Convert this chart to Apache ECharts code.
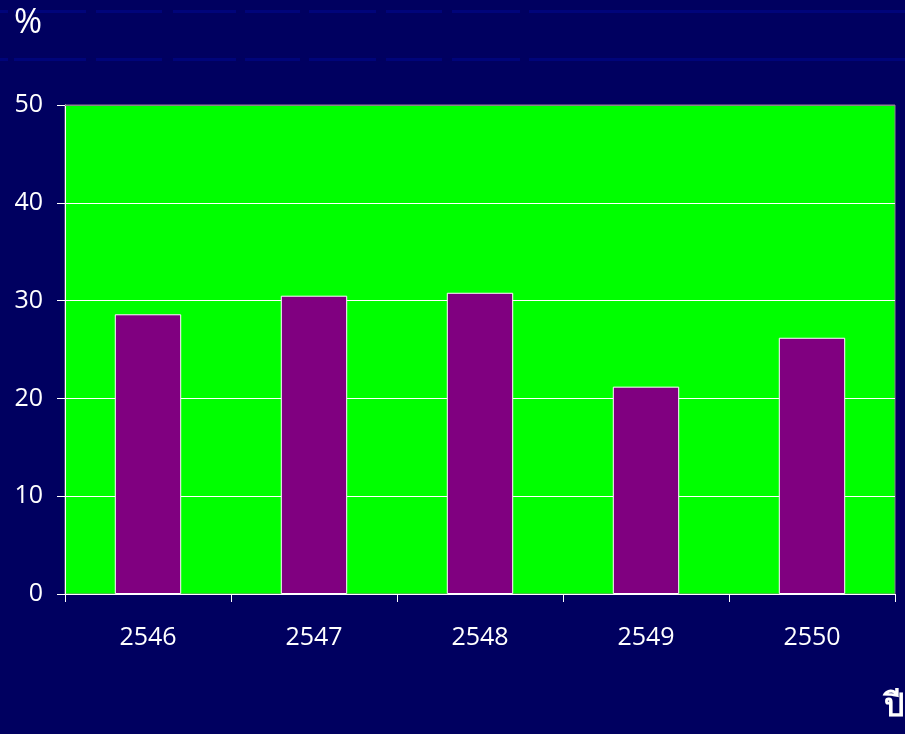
<!DOCTYPE html>
<html>
<head>
<meta charset="utf-8">
<script src="https://cdn.jsdelivr.net/npm/echarts@6/dist/echarts.min.js"></script>
<style>
html,body{margin:0;padding:0;background:#000060;}
#c{width:905px;height:734px;}
</style>
</head>
<body>
<div id="c"></div>
<script>
var categories = ['2546', '2547', '2548', '2549', '2550'];
var values = [28.6, 30.5, 30.8, 21.2, 26.2];
var yTicks = [0, 10, 20, 30, 40, 50];

var chart = echarts.init(document.getElementById('c'));
var stripes = [];
[10, 58].forEach(function (y) {
  [[0, 8], [14, 86], [96, 162], [173, 236], [245, 300], [309, 376], [386, 442], [452, 520], [529, 905]].forEach(function (s) {
    stripes.push({type: 'rect', left: s[0], top: y, shape: {width: s[1] - s[0], height: 3}, style: {fill: '#00047a'}, silent: true, z: -10});
  });
});
chart.setOption({
  backgroundColor: '#000060',
  animation: false,
  grid: {left: 65, right: 10, top: 105, bottom: 140, show: true, backgroundColor: '#00ff00', borderColor: '#8a8a8a', borderWidth: 1},
  xAxis: {
    type: 'category',
    data: categories,
    axisLine: {lineStyle: {color: '#ffffff', width: 1}},
    axisTick: {show: true, length: 8, lineStyle: {color: '#ffffff'}},
    axisLabel: {color: '#ffffff', fontSize: 25, margin: 31, fontFamily: 'Open Sans, sans-serif'},
    splitLine: {show: false}
  },
  yAxis: {
    type: 'value',
    min: yTicks[0],
    max: yTicks[yTicks.length - 1],
    interval: 10,
    axisLine: {show: true, lineStyle: {color: '#ffffff', width: 1}},
    axisTick: {show: true, length: 8, lineStyle: {color: '#ffffff'}},
    axisLabel: {color: '#ffffff', fontSize: 25, margin: 22, fontFamily: 'Open Sans, sans-serif'},
    splitLine: {show: true, lineStyle: {color: '#ffffff', width: 1}}
  },
  series: [{
    type: 'bar',
    data: values,
    barWidth: '40%',
    itemStyle: {color: '#800080', borderColor: '#ffffff', borderWidth: 1},
    markLine: {
      silent: true,
      symbol: 'none',
      label: {show: false},
      lineStyle: {color: '#8a8a8a', type: 'solid', width: 1},
      data: [{yAxis: yTicks[yTicks.length - 1]}]
    }
  }],
  graphic: stripes.concat([
    {type: 'text', left: 14, top: 6, style: {text: '%', fill: '#ffffff', font: '34px "Open Sans", sans-serif'}},
    {type: 'text', left: 884, top: 692, style: {text: 'ปี', fill: '#ffffff', font: 'bold 32px serif'}}
  ])
});
</script>
</body>
</html>
